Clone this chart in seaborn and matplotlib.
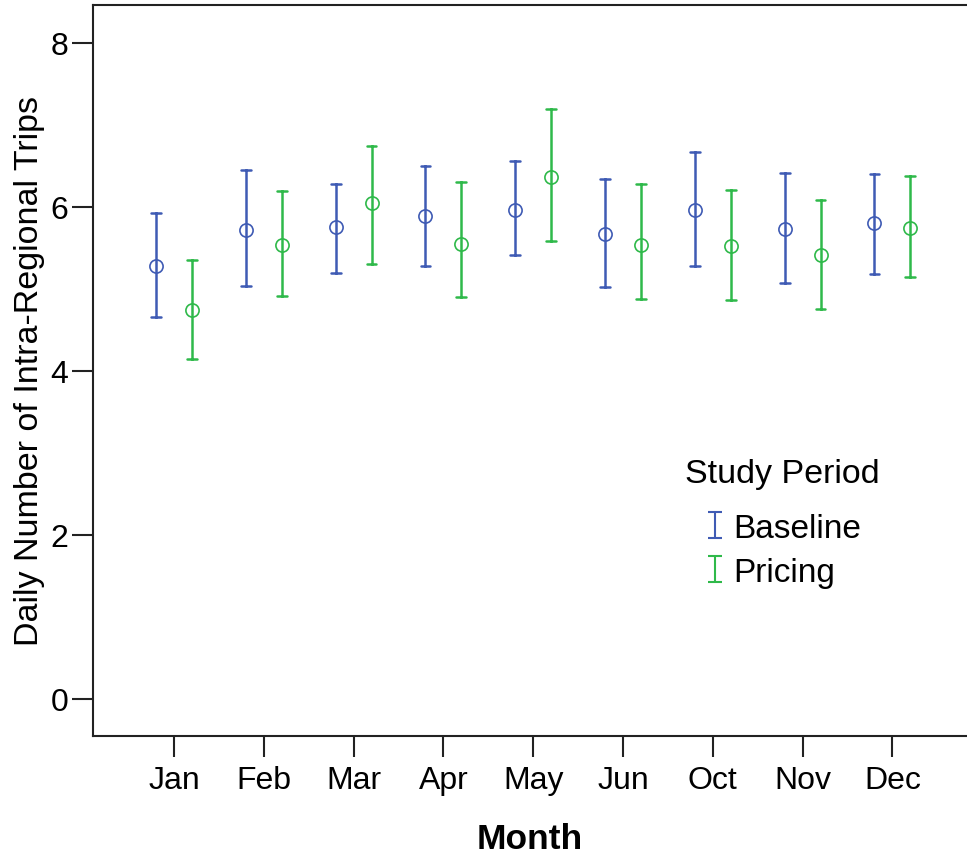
import numpy as np
import pandas as pd
import matplotlib
matplotlib.use("Agg")
import matplotlib.pyplot as plt
from matplotlib.path import Path
from matplotlib.lines import Line2D
import seaborn as sns

# ---- data ----
months = ["Jan", "Feb", "Mar", "Apr", "May", "Jun", "Oct", "Nov", "Dec"]
periods = ["Baseline", "Pricing"]
baseline_mean = [5.28, 5.72, 5.76, 5.89, 5.96, 5.67, 5.96, 5.73, 5.80]
baseline_low = [4.66, 5.04, 5.19, 5.28, 5.41, 5.03, 5.28, 5.07, 5.18]
baseline_high = [5.93, 6.45, 6.28, 6.50, 6.56, 6.34, 6.67, 6.42, 6.40]
pricing_mean = [4.74, 5.54, 6.05, 5.55, 6.36, 5.54, 5.53, 5.41, 5.75]
pricing_low = [4.15, 4.92, 5.30, 4.90, 5.58, 4.88, 4.87, 4.76, 5.15]
pricing_high = [5.35, 6.20, 6.74, 6.30, 7.20, 6.28, 6.21, 6.08, 6.38]
y_ticks = [0, 2, 4, 6, 8]

colors = {"Baseline": "#3f5bb4", "Pricing": "#2fb94a"}

# long table: low / mean / high per group -> median = mean, range = interval
rows = []
for p, (m_, lo_, hi_) in zip(periods, [(baseline_mean, baseline_low, baseline_high),
                                       (pricing_mean, pricing_low, pricing_high)]):
    for mon, m, lo, hi in zip(months, m_, lo_, hi_):
        for v in (lo, m, hi):
            rows.append({"Month": mon, "Study Period": p, "value": v})
df = pd.DataFrame(rows)

sns.set_style("white")
plt.rcParams["font.family"] = ["Liberation Sans", "DejaVu Sans"]
plt.rcParams["text.color"] = "black"
plt.rcParams["axes.labelcolor"] = "black"

W, H = 967, 854
fig = plt.figure(figsize=(W / 100, H / 100), dpi=100)
left, right, top, bottom = 93, 967, 6, 737
ax = fig.add_axes([left / W, 1 - bottom / H, (right - left) / W, (bottom - top) / H])

sns.pointplot(
    data=df, x="Month", y="value", hue="Study Period", order=months,
    hue_order=periods, palette=colors, estimator="median",
    errorbar=lambda v: (v.min(), v.max()), dodge=0.4, linestyle="none",
    markers="o", markersize=9.5, markeredgewidth=1.2, markerfacecolor="none",
    capsize=0.11, err_kws={"linewidth": 1.8}, legend=False, ax=ax,
)

px_per_unit_x = 89.8
x0 = -(174 - left) / px_per_unit_x
ax.set_xlim(x0, x0 + (right - left) / px_per_unit_x)
ax.set_ylim(-(bottom - 700) / 82.0, (700 - top) / 82.0)
ax.set_yticks(y_ticks)
ax.set_yticklabels([str(t) for t in y_ticks])

for s in ["left", "top", "bottom"]:
    ax.spines[s].set_visible(True)
    ax.spines[s].set_color("#222222")
    ax.spines[s].set_linewidth(1.5)
ax.spines["right"].set_visible(False)

ax.tick_params(axis="both", direction="out", length=15, width=1.5, color="#222222",
               labelsize=23, labelcolor="black", bottom=True, left=True)
ax.tick_params(axis="y", pad=3)
ax.tick_params(axis="x", pad=6)
ax.set_xlabel("Month", fontsize=25.5, fontweight="bold", labelpad=19)
ax.set_ylabel("Daily Number of Intra-Regional Trips", fontsize=24.5, labelpad=4)

# legend with "I"-shaped error-bar symbols
ibar = Path([(-0.55, 1), (0.55, 1), (0, 1), (0, -1), (-0.55, -1), (0.55, -1)],
            [Path.MOVETO, Path.LINETO, Path.MOVETO, Path.LINETO, Path.MOVETO, Path.LINETO])
handles = [Line2D([], [], linestyle="none", marker=ibar, markersize=19,
                  markeredgewidth=1.5, markerfacecolor="none", markeredgecolor=colors[p])
           for p in periods]
fig.text(685 / W, 1 - 475 / H, "Study Period", fontsize=24.5, color="black",
         ha="left", va="center")
leg = ax.legend(handles, periods, loc="upper left",
                bbox_to_anchor=(705 / W, 1 - 514 / H), bbox_transform=fig.transFigure,
                frameon=False, fontsize=24, handlelength=0.6,
                handletextpad=0.25, labelspacing=0.38, borderaxespad=0, borderpad=0)

fig.savefig("out.png", dpi=100)
